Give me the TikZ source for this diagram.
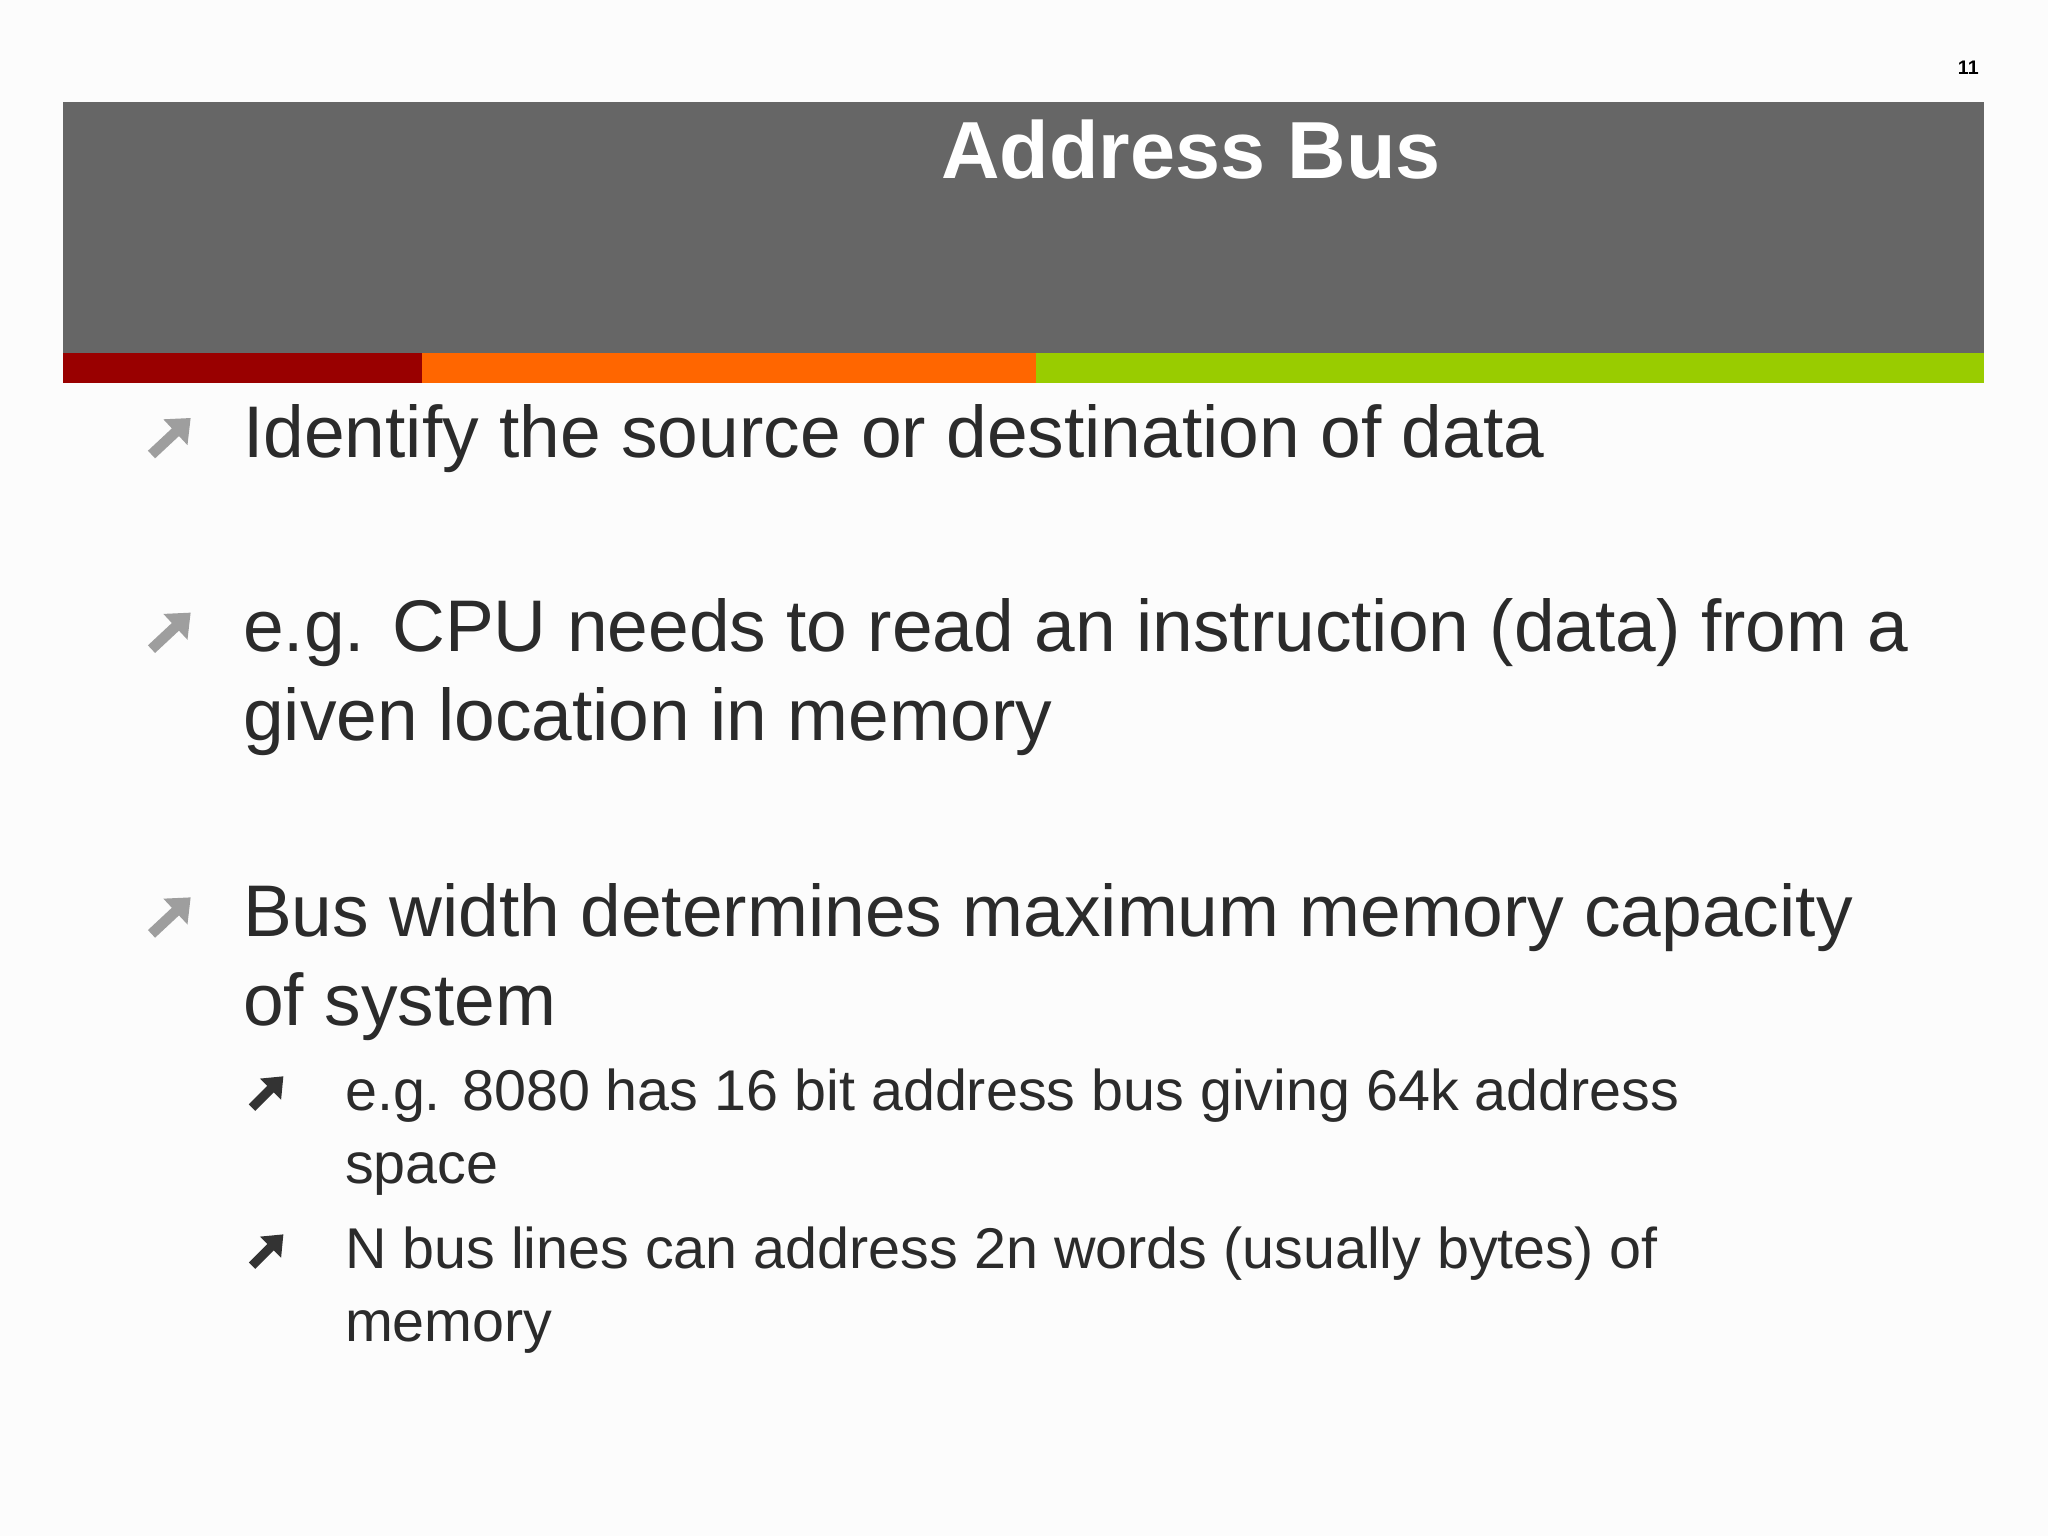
\documentclass[tikz,border=0pt]{standalone}
\usepackage{fontspec}
\setmainfont{Liberation Sans}
\usetikzlibrary{arrows.meta}
\definecolor{hdr}{HTML}{666666}
\definecolor{dred}{HTML}{990000}
\definecolor{orng}{HTML}{FF6600}
\definecolor{grn}{HTML}{99CC00}
\definecolor{txt}{HTML}{2B2B2B}
\tikzset{
 t1/.style={anchor=base west,text=txt,font=\fontsize{56}{68}\selectfont,inner sep=0},
 t2/.style={anchor=base west,text=txt,font=\fontsize{44}{56}\selectfont,inner sep=0},
 b1/.style={line width=8pt,color=black!38,-{Triangle[length=16pt,width=26pt]}},
 b2/.style={line width=7pt,color=black!80,-{Triangle[length=14pt,width=22pt]}}
}
\begin{document}
\begin{tikzpicture}[x=1pt,y=-1pt]
\fill[black!1] (0,0) rectangle (1568,1176);
\useasboundingbox (0,0) rectangle (1568,1176);
\fill[hdr] (48,78) rectangle (1519,270);
\fill[dred] (48,270) rectangle (323,293);
\fill[orng] (323,270) rectangle (793,293);
\fill[grn] (793,270) rectangle (1519,293);
\node[text=white,font=\fontsize{62}{70}\selectfont\bfseries,anchor=base] (title) at (912,137) {Address Bus};
\node[font=\rmfamily\bfseries\fontsize{15}{18}\selectfont,anchor=base] (pg) at (1507,57) {11};
% level 1
\draw[b1] (116,348) -- (146,320);
\node[t1] (l1) at (186,350) {Identify the source or destination of data};
\draw[b1] (116,497) -- (146,469);
\node[t1] (l2a) at (186,499) {e.g. CPU needs to read an instruction (data) from a};
\node[t1] (l2b) at (186,567) {given location in memory};
\draw[b1] (116,715) -- (146,687);
\node[t1] (l3a) at (186,717) {Bus width determines maximum memory capacity};
\node[t1] (l3b) at (186,785) {of system};
% level 2
\draw[b2] (193,848) -- (217,824);
\node[t2] (s1a) at (264,850) {e.g. 8080 has 16 bit address bus giving 64k address};
\node[t2] (s1b) at (264,906) {space};
\draw[b2] (193,969) -- (217,945);
\node[t2] (s2a) at (264,971) {N bus lines can address 2n words (usually bytes) of};
\node[t2] (s2b) at (264,1027) {memory};
\end{tikzpicture}
\end{document}
